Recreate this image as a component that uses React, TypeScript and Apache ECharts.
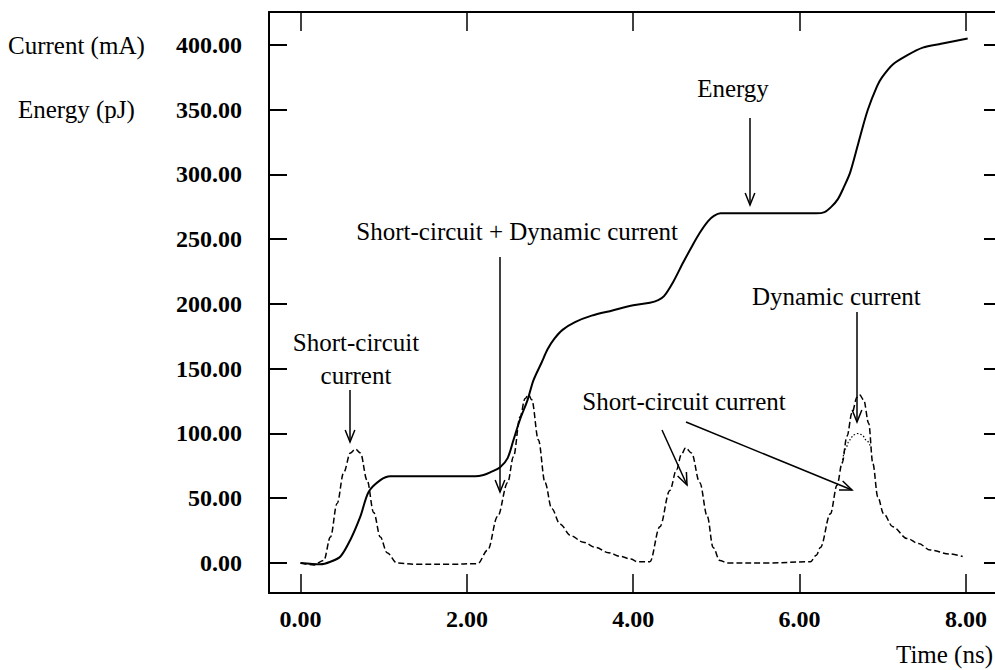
import React, { useEffect, useRef } from "react";
import * as echarts from "echarts";

// Tick values
const timeTicks = [0, 2, 4, 6, 8];
const valueTicks = [0, 50, 100, 150, 200, 250, 300, 350, 400];

// Energy (pJ) – solid curve
const energyTime = [0, 0.24, 0.36, 0.48, 0.6, 0.72, 0.82, 0.96, 1.08, 1.2, 2.1, 2.2, 2.28, 2.4, 2.49, 2.56, 2.64, 2.73, 2.8, 2.9, 2.97, 3.05, 3.15, 3.3, 3.5, 3.75, 4.0, 4.2, 4.3, 4.37, 4.48, 4.6, 4.71, 4.8, 4.9, 4.97, 5.05, 5.4, 6.2, 6.3, 6.38, 6.46, 6.53, 6.61, 6.73, 6.82, 6.93, 6.99, 7.12, 7.29, 7.48, 7.7, 8.02];
const energyValue = [0, -1, 1, 5, 18, 36, 55, 64, 67, 67, 67, 68, 70, 74, 81, 95, 111, 126, 141, 155, 165, 173, 180, 186, 191, 195, 199, 201, 203, 206, 217, 232, 245, 255, 264, 268, 270, 270, 270, 271, 275, 281, 290, 302, 330, 350, 368, 375, 385, 392, 398, 401, 405];

// Current (mA) – dashed curve (short-circuit + dynamic)
const currentTime = [0, 0.16, 0.28, 0.36, 0.44, 0.52, 0.6, 0.66, 0.72, 0.8, 0.88, 0.96, 1.04, 1.16, 1.4, 1.8, 2.13, 2.25, 2.37, 2.49, 2.56, 2.64, 2.7, 2.74, 2.78, 2.86, 2.94, 3.02, 3.12, 3.25, 3.4, 3.55, 3.7, 3.85, 3.97, 4.05, 4.2, 4.32, 4.44, 4.52, 4.58, 4.63, 4.7, 4.8, 4.89, 4.96, 5.04, 5.13, 5.6, 6.13, 6.2, 6.25, 6.37, 6.45, 6.51, 6.57, 6.63, 6.69, 6.72, 6.77, 6.83, 6.88, 6.94, 7.01, 7.12, 7.29, 7.43, 7.57, 7.8, 7.96];
const currentValue = [0, -1.5, 2, 20, 46, 70, 85, 88, 85, 64, 39, 20, 8, 0, -1, -1, -0.5, 10, 36, 62, 82, 113, 127, 130, 126, 95, 62, 42, 30, 21, 16, 12, 8, 5, 3, 1, 1, 28, 56, 72, 84, 89, 85, 62, 36, 12, 2, 0, 0, 1, 6, 12, 38, 60, 77, 98, 116, 128, 130, 126, 108, 77, 51, 38, 28, 19, 15, 10, 7, 5];

// Short-circuit current only – dotted curve at the last peak
const shortTime = [6.51, 6.55, 6.6, 6.65, 6.7, 6.75, 6.8, 6.86];
const shortValue = [77, 88, 95, 99, 100, 99, 95, 89];

const pairs = (t: number[], v: number[]) => t.map((x, i) => [x, v[i]]);

const SERIF = '"Liberation Serif", "Times New Roman", serif';
const INK = "#000";

function arrow(x1: number, y1: number, x2: number, y2: number, head = 13, spread = 0.38) {
  const ang = Math.atan2(y2 - y1, x2 - x1);
  const a1 = ang + Math.PI - spread;
  const a2 = ang + Math.PI + spread;
  return [
    { type: "line", shape: { x1, y1, x2, y2 }, style: { stroke: INK, lineWidth: 1.5 } },
    {
      type: "polyline",
      shape: {
        points: [
          [x2 + head * Math.cos(a1), y2 + head * Math.sin(a1)],
          [x2, y2],
          [x2 + head * Math.cos(a2), y2 + head * Math.sin(a2)],
        ],
      },
      style: { stroke: INK, lineWidth: 1.5, fill: null },
    },
  ];
}

function label(text: string, x: number, y: number, align: string, size = 25) {
  return {
    type: "text",
    x,
    y,
    style: {
      text,
      fontSize: size,
      fontFamily: SERIF,
      fill: INK,
      align,
      verticalAlign: "middle",
      textAlign: align,
      textVerticalAlign: "middle",
    },
  };
}

export default function App() {
  const ref = useRef<HTMLDivElement>(null);

  useEffect(() => {
    if (!ref.current) return;
    const chart = echarts.init(ref.current, null, { renderer: "svg" });

    const tickLabelStyle = {
      fontFamily: SERIF,
      fontWeight: "bold",
      fontSize: 24,
      color: INK,
    };
    const hiddenLabels = (vals: number[]) => ({
      show: true,
      inside: true,
      customValues: vals,
      formatter: () => "",
      color: "rgba(0,0,0,0)",
      fontSize: 1,
    });

    const option: any = {
      animation: false,
      backgroundColor: "#fff",
      grid: {
        left: 269,
        top: 12,
        width: 727,
        height: 581,
        containLabel: false,
        outerBoundsMode: "none",
      },
      xAxis: [
        {
          type: "value",
          position: "bottom",
          min: -0.3787,
          max: 8.3607,
          axisLine: { show: true, onZero: false, lineStyle: { color: INK, width: 2 } },
          axisTick: { show: true, inside: true, length: 19, customValues: timeTicks, lineStyle: { color: INK, width: 1.5, type: "solid" } },
          axisLabel: {
            show: true,
            customValues: timeTicks,
            formatter: (v: number) => v.toFixed(2),
            margin: 14,
            ...tickLabelStyle,
          },
          splitLine: { show: false },
        },
        {
          type: "value",
          position: "top",
          min: -0.3787,
          max: 8.3607,
          axisLine: { show: true, onZero: false, lineStyle: { color: INK, width: 2 } },
          axisTick: { show: true, inside: true, length: 19, customValues: timeTicks, lineStyle: { color: INK, width: 1.5, type: "solid" } },
          axisLabel: hiddenLabels(timeTicks),
          splitLine: { show: false },
        },
      ],
      yAxis: [
        {
          type: "value",
          position: "left",
          min: -23.17,
          max: 425.48,
          axisLine: { show: true, onZero: false, lineStyle: { color: INK, width: 2 } },
          axisTick: { show: true, inside: true, length: 18, customValues: valueTicks, lineStyle: { color: INK, width: 2, type: "solid" } },
          axisLabel: {
            show: true,
            customValues: valueTicks,
            formatter: (v: number) => v.toFixed(2),
            margin: 27,
            ...tickLabelStyle,
          },
          splitLine: { show: false },
        },
        {
          type: "value",
          position: "right",
          min: -23.17,
          max: 425.48,
          axisLine: { show: false, onZero: false },
          axisTick: { show: true, inside: true, length: 12, customValues: valueTicks, lineStyle: { color: INK, width: 2, type: "solid" } },
          axisLabel: hiddenLabels(valueTicks),
          splitLine: { show: false },
        },
      ],
      series: [
        {
          name: "Energy",
          type: "line",
          xAxisIndex: 0,
          yAxisIndex: 0,
          data: pairs(energyTime, energyValue),
          showSymbol: false,
          smooth: 0.3,
          lineStyle: { color: INK, width: 2, type: "solid" },
          z: 3,
        },
        {
          name: "Current",
          type: "line",
          xAxisIndex: 0,
          yAxisIndex: 0,
          data: pairs(currentTime, currentValue),
          showSymbol: false,
          smooth: 0.35,
          smoothMonotone: "x",
          lineStyle: { color: INK, width: 1.5, type: [6, 3] },
          z: 2,
        },
        {
          name: "Short-circuit current",
          type: "line",
          xAxisIndex: 0,
          yAxisIndex: 0,
          data: pairs(shortTime, shortValue),
          showSymbol: false,
          smooth: 0.35,
          smoothMonotone: "x",
          lineStyle: { color: INK, width: 1.2, type: [1.5, 2] },
          z: 2,
        },
      ],
      graphic: [
        label("Current (mA)", 8, 45, "left"),
        label("Energy (pJ)", 18, 109, "left"),
        label("Time (ns)", 993, 654, "right"),
        label("Energy", 733, 88, "center"),
        ...arrow(750, 118, 750, 205),
        label("Short-circuit + Dynamic current", 678, 231, "right"),
        ...arrow(500, 257, 500, 492),
        label("Short-circuit", 356, 342, "center"),
        label("current", 356, 375, "center"),
        ...arrow(350, 390, 350, 442),
        label("Short-circuit current", 684, 401, "center"),
        ...arrow(662, 430, 687, 485),
        ...arrow(686, 422, 852, 490),
        label("Dynamic current", 752, 296, "left"),
        ...arrow(857, 312, 857, 422),
      ],
    };

    chart.setOption(option);
    return () => chart.dispose();
  }, []);

  return (
    <div
      ref={ref}
      style={{ position: "fixed", left: 0, top: 0, width: 995, height: 670, background: "#fff" }}
    />
  );
}
